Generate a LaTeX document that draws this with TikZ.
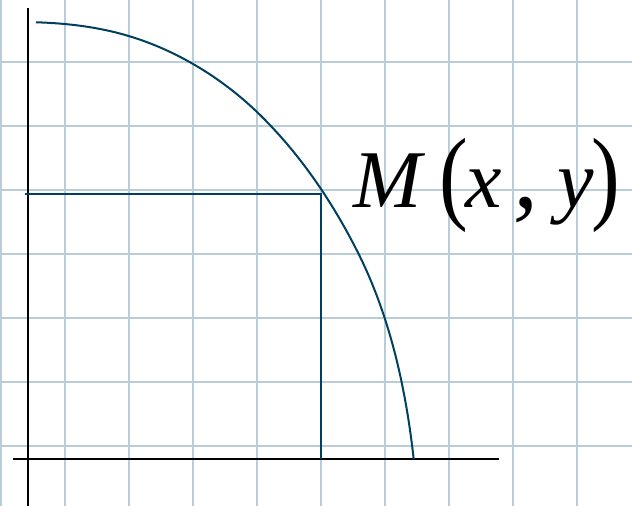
\documentclass[tikz,border=0pt]{standalone}
\usepackage{fontspec}
\usepackage{graphicx}
\setmainfont{Liberation Serif}
\definecolor{gridc}{HTML}{B9CDD9}
\definecolor{curvec}{HTML}{00405F}
\newcommand{\tallpar}[1]{\raisebox{-3.3pt}{\scalebox{1.05}[1.27]{#1}}}
\begin{document}
\begin{tikzpicture}[x=1pt,y=-1pt,
  gridline/.style={draw=gridc,line width=2pt},
  axisline/.style={draw=black,line width=2pt},
  bluecurve/.style={draw=curvec,line width=2pt}]
\useasboundingbox (0,0) rectangle (632,506);
% grid
\foreach \k in {0,...,9} {\draw[gridline] (0.7+64*\k,0) -- (0.7+64*\k,506);}
\foreach \k in {0,...,6} {\draw[gridline] (0,61.7+64*\k) -- (632,61.7+64*\k);}
% axes
\coordinate (ytop) at (27.7,8);
\coordinate (ybot) at (27.7,506);
\coordinate (xl) at (13.3,459.3);
\coordinate (xr) at (499.3,459.3);
\draw[axisline] (ytop) -- (ybot);
\draw[axisline] (xl) -- (xr);
% point M and projections
\coordinate (M) at (321,193.5);
\coordinate (My) at (25,193.5);
\coordinate (Mx) at (321,459.3);
\draw[bluecurve] (My) -- (M) -- (Mx);
% arc
\coordinate (A) at (36,22.3);
\coordinate (B) at (128.7,36);
\coordinate (C) at (256.7,111.7);
\coordinate (D) at (358.3,253.3);
\coordinate (E) at (413.7,459.3);
\draw[bluecurve] (A) .. controls (67.2,23.2) and (98.8,27.0) .. (B)
  .. controls (176.2,50.25) and (220.9,77.4) .. (C)
  .. controls (298.6,151.9) and (332.3,201.3) .. (D)
  .. controls (390.1,316.9) and (405.9,388.6) .. (E);
% label
\node[anchor=base west,inner sep=0pt] (lab) at (353,207.3) {\fontsize{82}{82}\selectfont\textit{M}\hspace{14.1pt}\tallpar{(}\hspace{-2.1pt}\textit{x}\hspace{11pt}{\fontsize{100}{100}\selectfont\textit{,}}\hspace{19pt}\textit{y}\hspace{-2.7pt}\tallpar{)}};
\end{tikzpicture}
\end{document}
